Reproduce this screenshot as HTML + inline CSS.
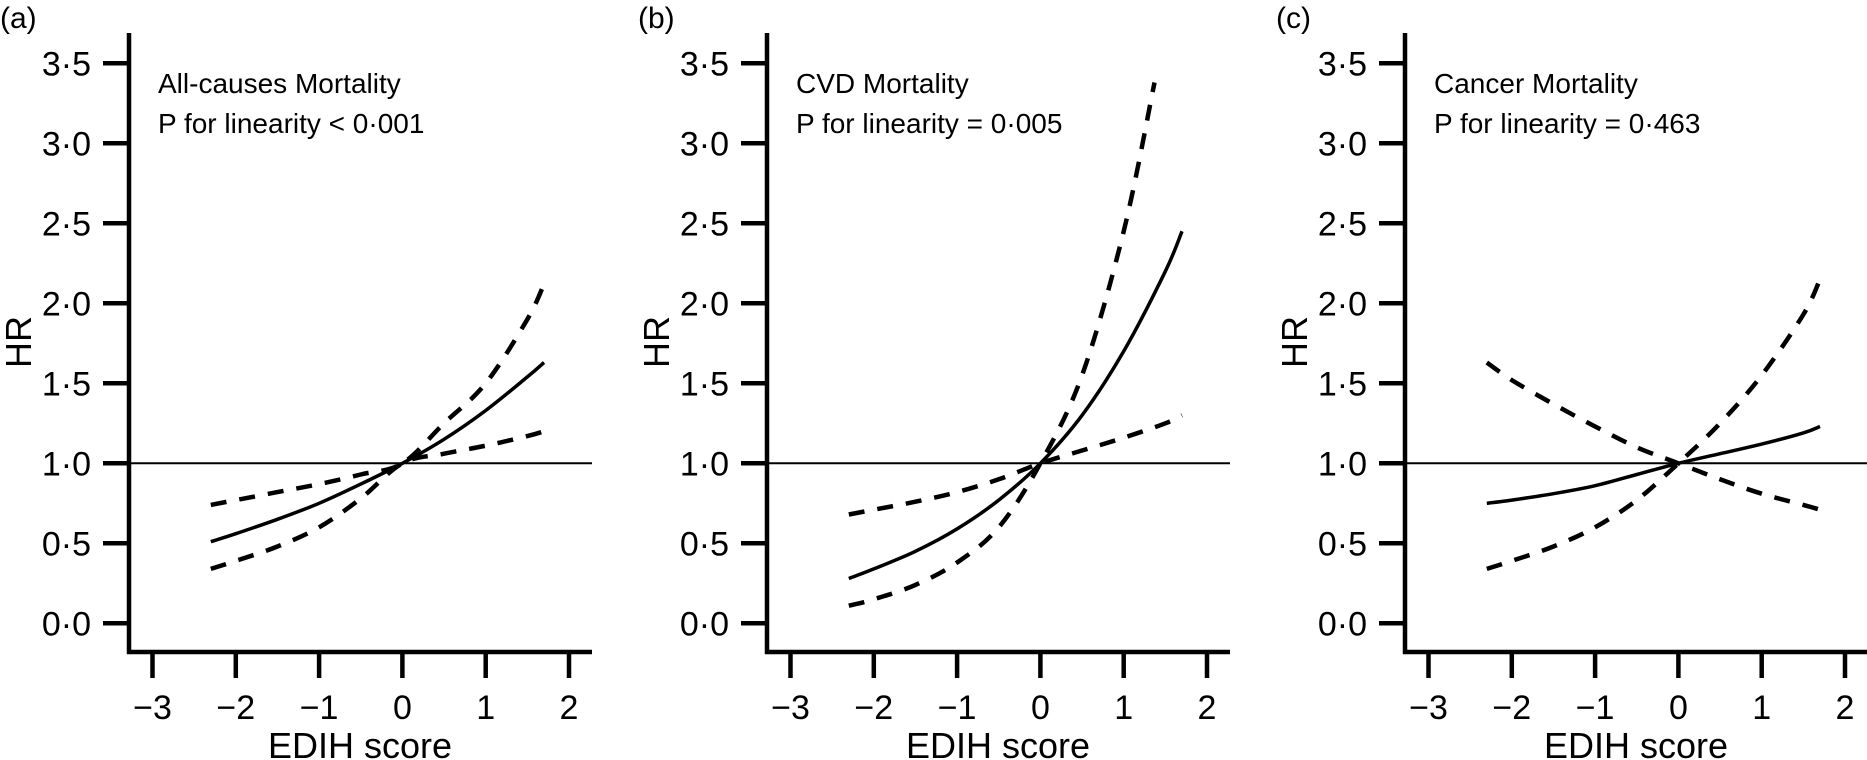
<!DOCTYPE html>
<html><head><meta charset="utf-8">
<style>
html,body{margin:0;padding:0;background:#fff;}
svg{display:block;font-family:"Liberation Sans",Arial,sans-serif;}
</style></head>
<body>
<svg id="chart" width="1867" height="760" viewBox="0 0 1867 760"></svg>
<script>
const panelLabels = ["(a)","(b)","(c)"];
const panelTitles = ["All-causes Mortality","CVD Mortality","Cancer Mortality"];
const panelPvalues = ["P for linearity < 0·001","P for linearity = 0·005","P for linearity = 0·463"];
const yTicks = [0,0.5,1,1.5,2,2.5,3,3.5];
const yTickLabels = ["0·0","0·5","1·0","1·5","2·0","2·5","3·0","3·5"];
const xTicks = [-3,-2,-1,0,1,2];
const xTickLabels = ["\u22123","\u22122","\u22121","0","1","2"];
const xGrid = [-2.3,-2,-1.5,-1,-0.5,0,0.5,1,1.5,1.7];
const xGridB = [-2.3,-2,-1.5,-1,-0.5,0,0.5,1,1.37];
// panel a
const aHR = [0.51,0.56,0.65,0.75,0.87,1.0,1.15,1.33,1.54,1.63];
const aUpper = [0.74,0.77,0.82,0.87,0.93,1.0,1.25,1.5,1.9,2.12];
const aLower = [0.34,0.39,0.48,0.6,0.78,1.0,1.06,1.11,1.17,1.2];
// panel b
const bHR = [0.28,0.34,0.45,0.59,0.77,1.0,1.3,1.7,2.2,2.45];
const bUpper = [0.11,0.15,0.24,0.38,0.6,1.0,1.55,2.45,3.38];
const bLower = [0.68,0.71,0.76,0.82,0.9,1.0,1.08,1.16,1.25,1.3];
// panel c
const cHR = [0.75,0.77,0.81,0.86,0.93,1.0,1.06,1.12,1.19,1.23];
const cCurveA = [1.63,1.52,1.37,1.23,1.1,1.0,0.9,0.81,0.74,0.71];
const cCurveB = [0.34,0.39,0.48,0.6,0.77,1.0,1.25,1.55,1.93,2.15];

const NS="http://www.w3.org/2000/svg";
const svg=document.getElementById('chart');
function mk(tag,attrs,parent){const e=document.createElementNS(NS,tag);for(const k in attrs)e.setAttribute(k,attrs[k]);(parent||svg).appendChild(e);return e;}
const offsets=[0,638,1276];
const axisRight=[592,1230,1867];
function xs(off,v){return off+402.4+v*83.3;}
function ys(v){return 623.3-v*160;}

const series=[
 [{x:xGrid,y:aHR,d:false},{x:xGrid,y:aUpper,d:true},{x:xGrid,y:aLower,d:true}],
 [{x:xGrid,y:bHR,d:false},{x:xGridB,y:bUpper,d:true},{x:xGrid,y:bLower,d:true}],
 [{x:xGrid,y:cHR,d:false},{x:xGrid,y:cCurveA,d:true},{x:xGrid,y:cCurveB,d:true}]
];
const seriesNames=["hr-line","upper-ci-line","lower-ci-line"];

function smoothPath(pts){
  let d="M"+pts[0][0]+","+pts[0][1];
  for(let i=0;i<pts.length-1;i++){
    const p0=pts[Math.max(0,i-1)],p1=pts[i],p2=pts[i+1],p3=pts[Math.min(pts.length-1,i+2)];
    const c1x=p1[0]+(p2[0]-p0[0])/6,c1y=p1[1]+(p2[1]-p0[1])/6;
    const c2x=p2[0]-(p3[0]-p1[0])/6,c2y=p2[1]-(p3[1]-p1[1])/6;
    d+=" C"+c1x+","+c1y+" "+c2x+","+c2y+" "+p2[0]+","+p2[1];
  }
  return d;
}

for(let p=0;p<3;p++){
  const off=offsets[p];
  const g=mk('g',{});
  
  
  const lab=mk('text',{x:off+0,y:28,'font-size':30,fill:'#000'},g);lab.textContent=panelLabels[p];
  
  
  const ya=mk('line',{x1:off+129,y1:33,x2:off+129,y2:654,stroke:'#000','stroke-width':4.5},g);
  
  
  yTicks.forEach((v,i)=>{
    const t=mk('line',{x1:off+103,y1:ys(v),x2:off+129,y2:ys(v),stroke:'#000','stroke-width':4.5},g);
    
    
    const tl=mk('text',{x:off+91,y:ys(v)+12,'font-size':34,'text-anchor':'end',fill:'#000'},g);
    tl.textContent=yTickLabels[i];
    
    
  });
  const xa=mk('line',{x1:off+127,y1:652,x2:axisRight[p],y2:652,stroke:'#000','stroke-width':4.5},g);
  
  
  xTicks.forEach((v,i)=>{
    const t=mk('line',{x1:xs(off,v),y1:652,x2:xs(off,v),y2:678,stroke:'#000','stroke-width':4.5},g);
    
    
    const tl=mk('text',{x:xs(off,v),y:719,'font-size':34,'text-anchor':'middle',fill:'#000'},g);
    tl.textContent=xTickLabels[i];
    
    
  });
  const xt=mk('text',{x:off+360,y:758,'font-size':36,'text-anchor':'middle',fill:'#000'},g);
  xt.textContent="EDIH score";
  
  
  const yt=mk('text',{x:0,y:0,'font-size':36,'text-anchor':'middle',fill:'#000',transform:'translate('+(off+31)+',342) rotate(-90)'},g);
  yt.textContent="HR";
  
  
  const ti=mk('text',{x:off+158,y:93,'font-size':28,fill:'#000'},g);
  ti.textContent=panelTitles[p];
  
  
  const pv=mk('text',{x:off+158,y:133,'font-size':28,fill:'#000'},g);
  pv.textContent=panelPvalues[p];
  
  
  const rl=mk('line',{x1:off+129,y1:ys(1),x2:axisRight[p],y2:ys(1),stroke:'#000','stroke-width':2},g);
  
  
  series[p].forEach((s,si)=>{
    const pts=s.x.map((xv,i)=>[xs(off,xv),ys(s.y[i])]);
    const path=mk('path',{d:smoothPath(pts),fill:'none',stroke:'#000','stroke-width':s.d?4.5:3.5,'stroke-dasharray':s.d?'16,13':'none'},g);
    
    
  });
}
</script>
</body></html>
